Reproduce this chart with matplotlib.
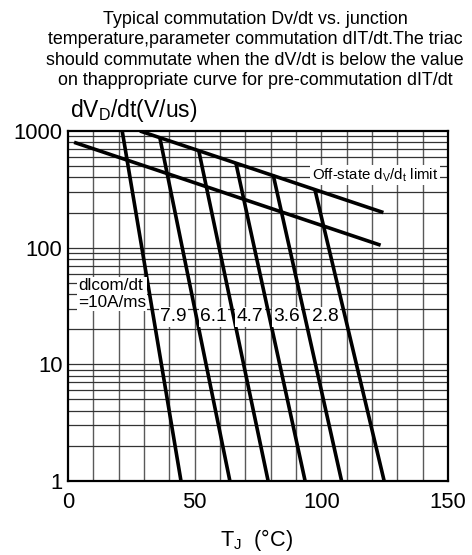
import matplotlib
matplotlib.use("Agg")
import matplotlib.pyplot as plt
import numpy as np

plt.rcParams['font.family'] = ['Liberation Sans', 'DejaVu Sans']

# Off-state dV/dt limit lines (T, value)
upper_T = [28.4, 124.5]
upper_v = [1000, 200]
lower_T = [2.4, 123.4]
lower_v = [800, 105]

# commutation curves, one per dIcom/dt
dIcom_labels = ["10", "7.9", "6.1", "4.7", "3.6", "2.8"]
curve_top_T = [21.4, 36.3, 51.7, 66.3, 81.0, 97.5]
curve_top_v = [1000, 866, 665, 528, 420, 312]
curve_bot_T = [44.6, 63.9, 79.0, 93.6, 108.0, 124.8]
curve_bot_v = [1, 1, 1, 1, 1, 1]

# label positions (T, value)
label_T = [41.5, 57.3, 71.8, 86.3, 101.5]
label_v = [25.5, 25.5, 25.5, 25.5, 25.5]

x_ticks = [0, 50, 100, 150]
y_ticks = [1, 10, 100, 1000]
y_ticklabels = ["1", "10", "100", "1000"]

fig = plt.figure(figsize=(4.72, 5.55), dpi=100)
ax = fig.add_axes([68/472, 1-481/555, 380/472, 350/555])
ax.set_yscale('log')
ax.set_xlim(0, 150)
ax.set_ylim(1, 1000)

# grid
for t in np.arange(10, 150, 10):
    ax.axvline(t, color='0.35', lw=1.0, zorder=1)
for dec in [1, 10, 100]:
    for m in range(1, 10):
        v = dec * m
        if 1 < v < 1000:
            ax.axhline(v, color='0.2', lw=0.9, zorder=1)

LW = 2.6
ax.plot(upper_T, upper_v, color='black', lw=LW, zorder=3, solid_capstyle='butt')
ax.plot(lower_T, lower_v, color='black', lw=LW, zorder=3, solid_capstyle='butt')
for i in range(len(dIcom_labels)):
    ax.plot([curve_top_T[i], curve_bot_T[i]], [curve_top_v[i], curve_bot_v[i]],
            color='black', lw=LW, zorder=3, solid_capstyle='butt')

bbox = dict(facecolor='white', edgecolor='none', pad=1.0)
ax.text(3.9, 40, "dlcom/dt\n=" + dIcom_labels[0] + "A/ms", fontsize=12.3,
        ha='left', va='center', linespacing=1.15, bbox=bbox, zorder=4)
for i in range(1, len(dIcom_labels)):
    ax.text(label_T[i-1], label_v[i-1], dIcom_labels[i], fontsize=13.8,
            ha='center', va='center', bbox=bbox, zorder=4)
ax.text(121.2, 420, "Off-state d$_{\\mathregular{V}}$/d$_{\\mathregular{t}}$ limit", fontsize=10.8,
        ha='center', va='center', bbox=bbox, zorder=4)

ax.set_xticks(x_ticks)
ax.set_xticklabels([str(t) for t in x_ticks])
ax.set_yticks(y_ticks)
ax.set_yticklabels(y_ticklabels)
ax.yaxis.set_minor_locator(matplotlib.ticker.NullLocator())
ax.tick_params(axis='both', length=0, labelsize=15.8)
ax.tick_params(axis='x', pad=8)
ax.tick_params(axis='y', pad=4)
for s in ax.spines.values():
    s.set_linewidth(1.6)
    s.set_zorder(5)

fig.text(255/472, 1-50/555,
         "Typical commutation Dv/dt vs. junction\n"
         "temperature,parameter commutation dIT/dt.The triac\n"
         "should commutate when the dV/dt is below the value\n"
         "on thappropriate curve for pre-commutation dIT/dt",
         ha='center', va='center', fontsize=12.9, linespacing=1.25)
fig.text(70/472, 1-111/555, "dV$_{\\mathregular{D}}$/dt(V/us)", fontsize=16.5,
         ha='left', va='center')
fig.text(256/472, 1-540/555, "T$_{\\mathregular{J}}$  (°C)", fontsize=15.6,
         ha='center', va='center')

fig.savefig("out.png", dpi=100)
